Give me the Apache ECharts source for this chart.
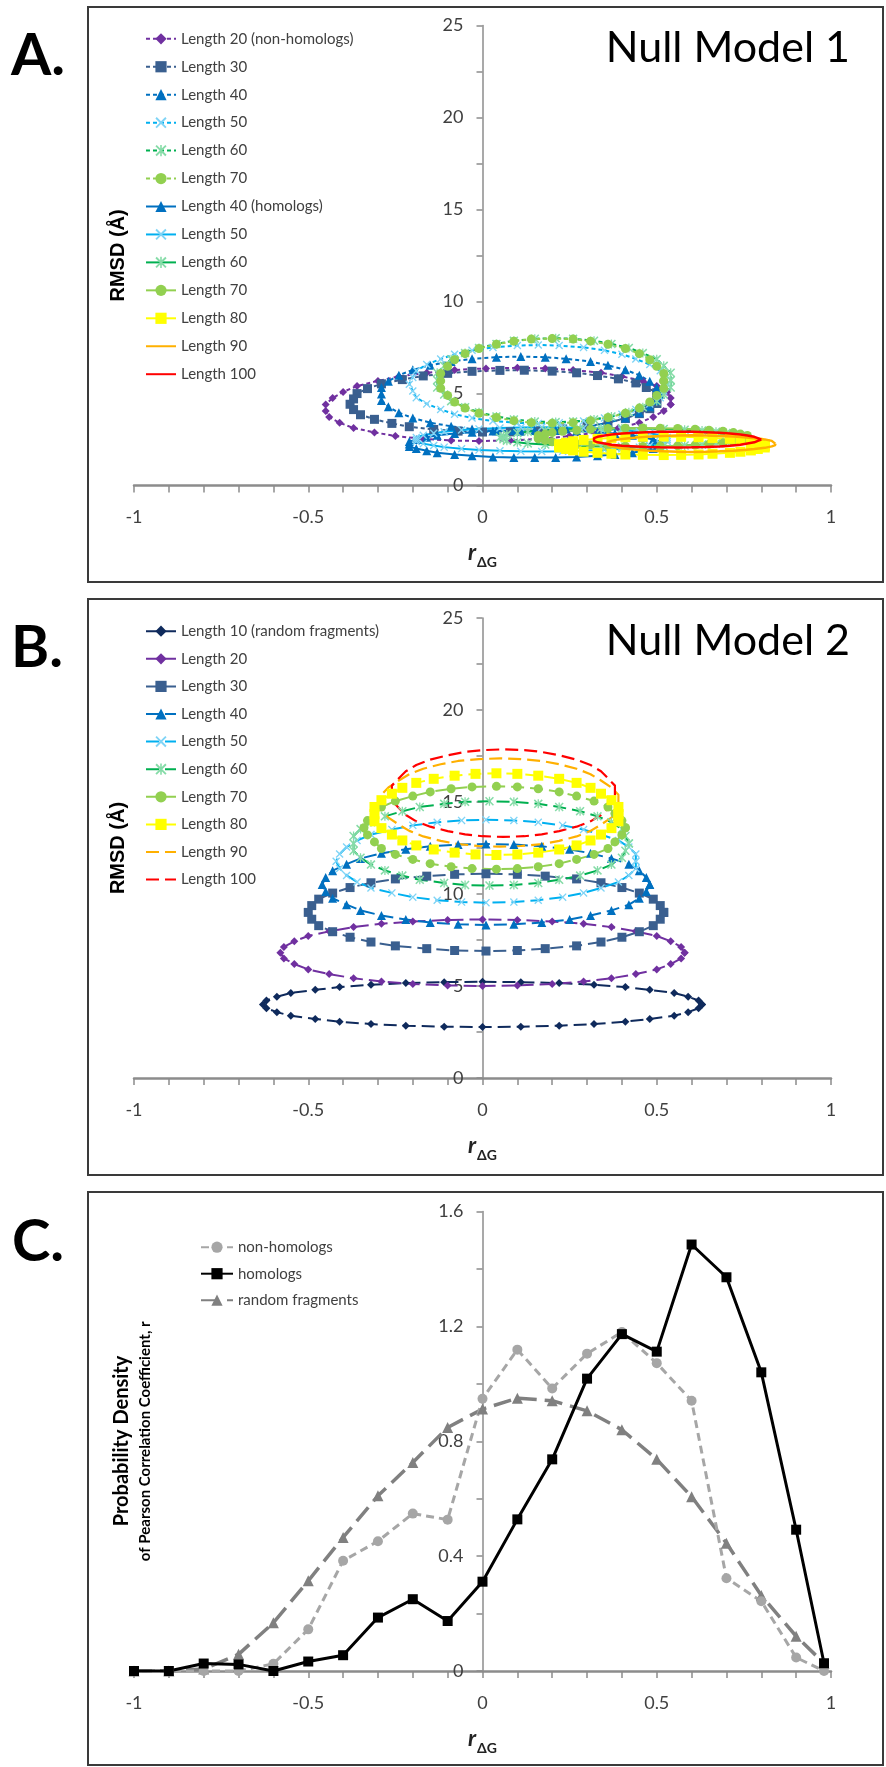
<!DOCTYPE html>
<html>
<head>
<meta charset="utf-8">
<script src="https://cdn.jsdelivr.net/npm/echarts@6.0.0/dist/echarts.min.js"></script>
<style>
body{margin:0;background:#fff;}
.panel{position:absolute;left:0;width:886px;}
#mainA{top:0;height:590px;}
#mainB{top:590px;height:592px;}
#mainC{top:1182px;height:585px;}
</style>
</head>
<body>
<div id="mainA" class="panel"></div>
<div id="mainB" class="panel"></div>
<div id="mainC" class="panel"></div>
<script>
// ---- Panel A: null model 1, ellipses (r, RMSD) ----
var a20x = [0.54,0.54,0.53,0.50,0.46,0.40,0.34,0.26,0.18,0.10,0.01,-0.08,-0.16,-0.24,-0.30,-0.36,-0.40,-0.43,-0.45,-0.45,-0.44,-0.41,-0.37,-0.31,-0.25,-0.17,-0.09,-0.01,0.08,0.17,0.25,0.33,0.39,0.45,0.49,0.52];
var a20y = [4.4,4.75,5.08,5.4,5.68,5.92,6.12,6.27,6.36,6.39,6.36,6.27,6.12,5.92,5.68,5.4,5.08,4.75,4.4,4.05,3.72,3.4,3.12,2.88,2.68,2.53,2.44,2.41,2.44,2.53,2.68,2.88,3.12,3.4,3.72,4.05];
var a30x = [0.50,0.50,0.50,0.47,0.44,0.39,0.33,0.27,0.20,0.12,0.05,-0.03,-0.10,-0.17,-0.23,-0.29,-0.33,-0.36,-0.37,-0.38,-0.37,-0.35,-0.31,-0.26,-0.21,-0.14,-0.07,0.00,0.08,0.16,0.23,0.30,0.36,0.41,0.45,0.48];
var a30y = [4.46,4.75,5.04,5.32,5.57,5.79,5.97,6.12,6.21,6.26,6.25,6.20,6.09,5.95,5.75,5.52,5.26,4.99,4.70,4.41,4.12,3.84,3.59,3.37,3.19,3.04,2.95,2.90,2.91,2.96,3.07,3.21,3.41,3.64,3.90,4.17];
var a40x = [0.51,0.50,0.48,0.45,0.41,0.36,0.31,0.24,0.18,0.11,0.04,-0.03,-0.09,-0.15,-0.20,-0.24,-0.27,-0.29,-0.29,-0.29,-0.27,-0.24,-0.20,-0.15,-0.09,-0.03,0.04,0.11,0.18,0.24,0.31,0.36,0.41,0.45,0.48,0.50];
var a40y = [4.97,5.32,5.66,5.99,6.28,6.53,6.73,6.88,6.97,7.0,6.97,6.88,6.73,6.53,6.28,5.99,5.66,5.32,4.97,4.62,4.28,3.95,3.66,3.41,3.21,3.06,2.97,2.94,2.97,3.06,3.21,3.41,3.66,3.95,4.28,4.62];
var a50x = [0.53,0.52,0.51,0.48,0.44,0.40,0.35,0.29,0.22,0.16,0.10,0.03,-0.03,-0.08,-0.12,-0.16,-0.19,-0.20,-0.21,-0.20,-0.19,-0.16,-0.12,-0.08,-0.03,0.03,0.10,0.16,0.22,0.29,0.35,0.40,0.44,0.48,0.51,0.52];
var a50y = [5.5,5.87,6.23,6.57,6.87,7.13,7.34,7.5,7.6,7.63,7.6,7.5,7.34,7.13,6.87,6.57,6.23,5.87,5.5,5.13,4.77,4.43,4.13,3.87,3.66,3.5,3.4,3.37,3.4,3.5,3.66,3.87,4.13,4.43,4.77,5.13];
var a60x = [0.54,0.54,0.52,0.50,0.46,0.42,0.37,0.32,0.26,0.21,0.15,0.09,0.04,-0.01,-0.05,-0.09,-0.11,-0.13,-0.13,-0.13,-0.11,-0.09,-0.05,-0.01,0.04,0.09,0.15,0.21,0.26,0.32,0.37,0.42,0.46,0.50,0.52,0.54];
var a60y = [5.72,6.12,6.50,6.86,7.19,7.47,7.69,7.86,7.97,8.0,7.97,7.86,7.69,7.47,7.19,6.86,6.50,6.12,5.72,5.32,4.94,4.58,4.25,3.97,3.75,3.58,3.47,3.44,3.47,3.58,3.75,3.97,4.25,4.58,4.94,5.32];
var a70x = [0.52,0.52,0.50,0.48,0.45,0.41,0.36,0.31,0.26,0.20,0.14,0.09,0.04,-0.01,-0.05,-0.08,-0.10,-0.12,-0.12,-0.12,-0.10,-0.08,-0.05,-0.01,0.04,0.09,0.14,0.20,0.26,0.31,0.36,0.41,0.45,0.48,0.50,0.52];
var a70y = [5.68,6.08,6.47,6.83,7.16,7.44,7.67,7.84,7.95,7.98,7.95,7.84,7.67,7.44,7.16,6.83,6.47,6.08,5.68,5.28,4.89,4.53,4.20,3.92,3.69,3.52,3.41,3.38,3.41,3.52,3.69,3.92,4.20,4.53,4.89,5.28];
var h40x = [0.51,0.51,0.49,0.46,0.43,0.38,0.33,0.27,0.21,0.15,0.09,0.03,-0.03,-0.08,-0.13,-0.16,-0.19,-0.21,-0.21,-0.21,-0.19,-0.16,-0.13,-0.08,-0.03,0.03,0.09,0.15,0.21,0.27,0.33,0.38,0.43,0.46,0.49,0.51];
var h40y = [2.25,2.38,2.50,2.62,2.73,2.82,2.89,2.95,2.98,2.99,2.98,2.95,2.89,2.82,2.73,2.62,2.50,2.38,2.25,2.12,2.0,1.88,1.77,1.68,1.61,1.55,1.52,1.51,1.52,1.55,1.61,1.68,1.77,1.88,2.0,2.12];
var h50x = [0.53,0.53,0.51,0.48,0.45,0.40,0.35,0.29,0.23,0.17,0.11,0.05,-0.01,-0.06,-0.11,-0.14,-0.17,-0.19,-0.19,-0.19,-0.17,-0.14,-0.11,-0.06,-0.01,0.05,0.11,0.17,0.23,0.29,0.35,0.40,0.45,0.48,0.51,0.53];
var h50y = [2.5,2.61,2.73,2.83,2.92,3.01,3.07,3.12,3.15,3.16,3.15,3.12,3.07,3.01,2.92,2.83,2.73,2.61,2.5,2.39,2.27,2.17,2.08,1.99,1.93,1.88,1.85,1.84,1.85,1.88,1.93,1.99,2.08,2.17,2.27,2.39];
var h60x = [0.75,0.75,0.73,0.70,0.67,0.63,0.58,0.52,0.46,0.40,0.34,0.28,0.23,0.18,0.13,0.10,0.07,0.06,0.05,0.06,0.07,0.10,0.13,0.18,0.23,0.28,0.34,0.40,0.46,0.52,0.58,0.63,0.67,0.70,0.73,0.75];
var h60y = [2.6,2.69,2.77,2.85,2.92,2.98,3.03,3.07,3.09,3.1,3.09,3.07,3.03,2.98,2.92,2.85,2.77,2.69,2.6,2.51,2.43,2.35,2.28,2.22,2.17,2.13,2.11,2.1,2.11,2.13,2.17,2.22,2.28,2.35,2.43,2.51];
var h70x = [0.76,0.76,0.74,0.72,0.69,0.65,0.61,0.56,0.51,0.46,0.41,0.36,0.31,0.27,0.23,0.20,0.18,0.16,0.16,0.16,0.18,0.20,0.23,0.27,0.31,0.36,0.41,0.46,0.51,0.56,0.61,0.65,0.69,0.72,0.74,0.76];
var h70y = [2.62,2.71,2.79,2.87,2.94,3.0,3.05,3.09,3.11,3.12,3.11,3.09,3.05,3.0,2.94,2.87,2.79,2.71,2.62,2.53,2.45,2.37,2.30,2.24,2.19,2.15,2.13,2.12,2.13,2.15,2.19,2.24,2.30,2.37,2.45,2.53];
var h80x = [0.81,0.81,0.79,0.77,0.74,0.71,0.66,0.62,0.57,0.52,0.46,0.41,0.37,0.33,0.29,0.26,0.24,0.22,0.22,0.22,0.24,0.26,0.29,0.33,0.37,0.41,0.46,0.52,0.57,0.62,0.66,0.71,0.74,0.77,0.79,0.81];
var h80y = [2.15,2.24,2.32,2.40,2.47,2.53,2.58,2.62,2.64,2.65,2.64,2.62,2.58,2.53,2.47,2.40,2.32,2.24,2.15,2.06,1.98,1.90,1.83,1.77,1.72,1.68,1.66,1.65,1.66,1.68,1.72,1.77,1.83,1.90,1.98,2.06];
var h90x = [0.84,0.84,0.83,0.81,0.78,0.75,0.72,0.68,0.64,0.60,0.56,0.52,0.48,0.45,0.42,0.39,0.37,0.36,0.36,0.36,0.37,0.39,0.42,0.45,0.48,0.52,0.56,0.60,0.64,0.68,0.72,0.75,0.78,0.81,0.83,0.84];
var h90y = [2.27,2.35,2.42,2.50,2.56,2.61,2.66,2.69,2.71,2.72,2.71,2.69,2.66,2.61,2.56,2.50,2.42,2.35,2.27,2.19,2.12,2.04,1.98,1.93,1.88,1.85,1.83,1.82,1.83,1.85,1.88,1.93,1.98,2.04,2.12,2.19];
var h100x = [0.80,0.79,0.78,0.76,0.74,0.71,0.68,0.64,0.60,0.56,0.51,0.47,0.44,0.40,0.37,0.35,0.33,0.32,0.32,0.32,0.33,0.35,0.37,0.40,0.44,0.47,0.51,0.56,0.60,0.64,0.68,0.71,0.74,0.76,0.78,0.79];
var h100y = [2.49,2.57,2.64,2.71,2.77,2.82,2.86,2.89,2.91,2.92,2.91,2.89,2.86,2.82,2.77,2.71,2.64,2.57,2.49,2.42,2.34,2.28,2.21,2.16,2.12,2.09,2.07,2.06,2.07,2.09,2.12,2.16,2.21,2.28,2.34,2.42];

// ---- Panel B: null model 2 ----
var b10x = [0.63,0.62,0.59,0.55,0.48,0.41,0.32,0.22,0.11,0,-0.11,-0.22,-0.32,-0.41,-0.48,-0.55,-0.59,-0.62,-0.63,-0.62,-0.59,-0.55,-0.48,-0.41,-0.32,-0.22,-0.11,0,0.11,0.22,0.32,0.41,0.48,0.55,0.59,0.62];
var b10y = [4.0,4.21,4.42,4.62,4.79,4.94,5.07,5.16,5.21,5.23,5.21,5.16,5.07,4.94,4.79,4.62,4.42,4.21,4.0,3.79,3.58,3.38,3.21,3.06,2.93,2.84,2.79,2.77,2.79,2.84,2.93,3.06,3.21,3.38,3.58,3.79];
var b20x = [0.58,0.57,0.54,0.50,0.44,0.37,0.29,0.20,0.10,0,-0.10,-0.20,-0.29,-0.37,-0.44,-0.50,-0.54,-0.57,-0.58,-0.57,-0.54,-0.50,-0.44,-0.37,-0.29,-0.20,-0.10,0,0.10,0.20,0.29,0.37,0.44,0.50,0.54,0.57];
var b20y = [6.81,7.12,7.43,7.72,7.97,8.20,8.38,8.51,8.59,8.62,8.59,8.51,8.38,8.20,7.97,7.72,7.43,7.12,6.81,6.50,6.19,5.90,5.65,5.42,5.24,5.11,5.03,5.00,5.03,5.11,5.24,5.42,5.65,5.90,6.19,6.50];
var b30x = [0.52,0.51,0.49,0.45,0.40,0.34,0.27,0.18,0.10,0.01,-0.08,-0.16,-0.25,-0.32,-0.38,-0.43,-0.47,-0.49,-0.50,-0.49,-0.47,-0.43,-0.38,-0.32,-0.25,-0.16,-0.08,0.01,0.10,0.18,0.27,0.34,0.40,0.45,0.49,0.51];
var b30y = [9.0,9.37,9.72,10.05,10.35,10.61,10.82,10.97,11.07,11.1,11.07,10.97,10.82,10.61,10.35,10.05,9.72,9.37,9.0,8.63,8.28,7.95,7.65,7.39,7.18,7.03,6.93,6.9,6.93,7.03,7.18,7.39,7.65,7.95,8.28,8.63];
var b40x = [0.48,0.47,0.45,0.42,0.37,0.31,0.25,0.17,0.09,0.01,-0.07,-0.15,-0.22,-0.29,-0.35,-0.39,-0.43,-0.45,-0.46,-0.45,-0.43,-0.39,-0.35,-0.29,-0.22,-0.15,-0.07,0.01,0.09,0.17,0.25,0.31,0.37,0.42,0.45,0.47];
var b40y = [10.52,10.90,11.27,11.62,11.93,12.21,12.43,12.59,12.69,12.72,12.69,12.59,12.43,12.21,11.93,11.62,11.27,10.90,10.52,10.14,9.77,9.42,9.11,8.83,8.61,8.45,8.35,8.32,8.35,8.45,8.61,8.83,9.11,9.42,9.77,10.14];
var b50x = [0.44,0.44,0.42,0.39,0.34,0.29,0.23,0.16,0.09,0.01,-0.06,-0.13,-0.20,-0.26,-0.32,-0.36,-0.39,-0.41,-0.42,-0.41,-0.39,-0.36,-0.32,-0.26,-0.20,-0.13,-0.06,0.01,0.09,0.16,0.23,0.29,0.34,0.39,0.42,0.44];
var b50y = [11.78,12.17,12.55,12.91,13.23,13.50,13.73,13.90,14.00,14.03,14.00,13.90,13.73,13.50,13.23,12.91,12.55,12.17,11.78,11.39,11.01,10.65,10.33,10.06,9.83,9.66,9.56,9.53,9.56,9.66,9.83,10.06,10.33,10.65,11.01,11.39];
var b60x = [0.42,0.41,0.40,0.37,0.33,0.28,0.22,0.16,0.09,0.02,-0.05,-0.11,-0.18,-0.23,-0.28,-0.32,-0.35,-0.37,-0.37,-0.37,-0.35,-0.32,-0.28,-0.23,-0.18,-0.11,-0.05,0.02,0.09,0.16,0.22,0.28,0.33,0.37,0.40,0.41];
var b60y = [12.75,13.15,13.53,13.90,14.22,14.50,14.73,14.90,15.01,15.04,15.01,14.90,14.73,14.50,14.22,13.90,13.53,13.15,12.75,12.35,11.97,11.60,11.28,11.00,10.77,10.60,10.49,10.46,10.49,10.60,10.77,11.00,11.28,11.60,11.97,12.35];
var b70x = [0.41,0.40,0.38,0.36,0.32,0.27,0.22,0.16,0.10,0.04,-0.03,-0.09,-0.15,-0.20,-0.25,-0.29,-0.31,-0.33,-0.34,-0.33,-0.31,-0.29,-0.25,-0.20,-0.15,-0.09,-0.03,0.04,0.10,0.16,0.22,0.27,0.32,0.36,0.38,0.40];
var b70y = [13.6,13.99,14.37,14.73,15.05,15.32,15.55,15.72,15.82,15.85,15.82,15.72,15.55,15.32,15.05,14.73,14.37,13.99,13.6,13.21,12.83,12.47,12.15,11.88,11.65,11.48,11.38,11.35,11.38,11.48,11.65,11.88,12.15,12.47,12.83,13.21];
var b80x = [0.39,0.39,0.37,0.34,0.31,0.27,0.22,0.16,0.10,0.04,-0.02,-0.08,-0.14,-0.19,-0.23,-0.26,-0.29,-0.31,-0.31,-0.31,-0.29,-0.26,-0.23,-0.19,-0.14,-0.08,-0.02,0.04,0.10,0.16,0.22,0.27,0.31,0.34,0.37,0.39];
var b80y = [14.34,14.73,15.10,15.45,15.77,16.04,16.26,16.43,16.53,16.56,16.53,16.43,16.26,16.04,15.77,15.45,15.10,14.73,14.34,13.95,13.58,13.23,12.91,12.64,12.42,12.25,12.15,12.12,12.15,12.25,12.42,12.64,12.91,13.23,13.58,13.95];
var b90x = [0.39,0.39,0.37,0.34,0.31,0.27,0.22,0.17,0.11,0.05,-0.01,-0.07,-0.12,-0.17,-0.21,-0.24,-0.27,-0.29,-0.29,-0.29,-0.27,-0.24,-0.21,-0.17,-0.12,-0.07,-0.01,0.05,0.11,0.17,0.22,0.27,0.31,0.34,0.37,0.39];
var b90y = [14.97,15.39,15.79,16.17,16.51,16.81,17.05,17.23,17.33,17.37,17.33,17.23,17.05,16.81,16.51,16.17,15.79,15.39,14.97,14.55,14.15,13.77,13.43,13.13,12.89,12.71,12.61,12.57,12.61,12.71,12.89,13.13,13.43,13.77,14.15,14.55];
var b100x = [0.38,0.38,0.36,0.34,0.31,0.27,0.22,0.17,0.12,0.06,0.00,-0.05,-0.10,-0.15,-0.19,-0.22,-0.24,-0.26,-0.26,-0.26,-0.24,-0.22,-0.19,-0.15,-0.10,-0.05,0.00,0.06,0.12,0.17,0.22,0.27,0.31,0.34,0.36,0.38];
var b100y = [15.48,15.89,16.29,16.67,17.01,17.30,17.54,17.72,17.82,17.86,17.82,17.72,17.54,17.30,17.01,16.67,16.29,15.89,15.48,15.07,14.67,14.29,13.95,13.66,13.42,13.24,13.14,13.10,13.14,13.24,13.42,13.66,13.95,14.29,14.67,15.07];

// ---- Panel C: probability density ----
var rC = [-1,-0.9,-0.8,-0.7,-0.6,-0.5,-0.4,-0.3,-0.2,-0.1,0,0.1,0.2,0.3,0.4,0.5,0.6,0.7,0.8,0.9,0.98];
var nonHom = [0,0,0,0,0.025,0.145,0.384,0.452,0.548,0.527,0.948,1.119,0.984,1.105,1.18,1.072,0.941,0.323,0.243,0.047,0];
var hom = [0,0,0.026,0.023,0,0.033,0.055,0.186,0.25,0.174,0.311,0.528,0.737,1.018,1.173,1.112,1.485,1.371,1.04,0.492,0.027];
var randFrag = [0,0,0.007,0.058,0.168,0.314,0.465,0.61,0.726,0.848,0.912,0.95,0.941,0.906,0.84,0.737,0.607,0.445,0.263,0.121,0.027];

var FONT = 'Lato';
var AX = '#8c8c8c';
var xMark = 'path://M0,1.2L1.2,0L5,3.8L8.8,0L10,1.2L6.2,5L10,8.8L8.8,10L5,6.2L1.2,10L0,8.8L3.8,5Z';
var starMark = xMark + 'M4.3,0L5.7,0L5.7,10L4.3,10Z';

function ell(xs, ys){
	var d = [];
	for(var i=0;i<xs.length;i++){
		d.push([xs[i], ys[i]]);
	}
	d.push([xs[0], ys[0]]);	// close the loop
	return d;
}
function zip(xs, ys){
	var d = [];
	for(var i=0;i<xs.length;i++){ d.push([xs[i], ys[i]]); }
	return d;
}
function ser(name, data, color, symbol, size, dash, width, markColor, z){
	return {
		type: 'line', name: name, data: data, z: z || 2,
		symbol: symbol, symbolSize: size, showSymbol: symbol !== 'none',
		lineStyle: {color: color, width: width, type: dash},
		itemStyle: {color: markColor || color},
		emphasis: {disabled: true}
	};
}
// legend entries; series without markers get an invisible legend symbol
function legData(list){
	return list.map(function(s){
		return s.symbol === 'none' ? {name: s.name, itemStyle: {opacity: 0}} : {name: s.name};
	});
}
function xAx(gap){
	return {
		type: 'value', min: -1, max: 1, interval: 0.5,
		axisLine: {onZero: true, lineStyle: {color: AX, width: 2.5}},
		axisTick: {length: 7, lineStyle: {color: AX, width: 1.5}},
		minorTick: {show: true, splitNumber: 5, length: 7, lineStyle: {color: AX, width: 1.5}},
		splitLine: {show: false},
		axisLabel: {margin: 23, fontFamily: FONT, fontSize: 18, color: '#404040'},
		name: '{r|r}{s|ΔG}', nameLocation: 'middle', nameGap: gap,
		nameTextStyle: {rich: {
			r: {fontFamily: FONT, fontStyle: 'italic', fontWeight: 'bold', fontSize: 23, color: '#222', verticalAlign: 'bottom', padding: [0, 1, 5, 0]},
			s: {fontFamily: FONT, fontWeight: 'bold', fontSize: 14, color: '#222', verticalAlign: 'bottom'}
		}}
	};
}
// y axis drawn at r = 0: shifted right from the grid's left edge by half the grid width
function yAx(max, interval){
	return {
		type: 'value', position: 'left', min: 0, max: max, interval: interval, offset: -348.5,
		axisLine: {show: true, onZero: false, lineStyle: {color: AX, width: 1.5}},
		axisTick: {show: true, length: 6, lineStyle: {color: AX, width: 1.5}},
		minorTick: {show: true, splitNumber: 2, length: 6, lineStyle: {color: AX, width: 1.5}},
		splitLine: {show: false},
		axisLabel: {margin: 19, fontFamily: FONT, fontSize: 18, color: '#404040'}
	};
}
// invisible y axis that only carries a rotated title line
function yTitleAx(max, name, gap, nameStyle){
	return {
		type: 'value', position: 'left', min: 0, max: max, offset: -348.5,
		axisLine: {show: false}, axisTick: {show: false}, axisLabel: {show: false},
		splitLine: {show: false}, nameMoveOverlap: false,
		name: name, nameLocation: 'middle', nameRotate: 90, nameGap: gap,
		nameTextStyle: nameStyle
	};
}
function frame(y, h){
	return {type: 'rect', shape: {x: 88, y: y, width: 795, height: h}, style: {fill: 'none', stroke: '#3a3a3a', lineWidth: 2}, z: -1};
}
function txt(x, y, s, font, align){
	return {type: 'text', x: x, y: y, style: {text: s, font: font, fill: '#000', align: align, verticalAlign: 'middle', textAlign: align, textVerticalAlign: 'middle'}};
}
var rmsdStyle = {fontFamily: 'Liberation Sans', fontWeight: 'bold', fontSize: 20, color: '#000'};
var legText = {fontFamily: FONT, fontSize: 15, color: '#404040'};
var gridBase = {left: 134, width: 697, outerBoundsMode: 'none', containLabel: false};

// ---- A ----
var myChartA = echarts.init(document.getElementById('mainA'));
var dashA = [4, 3];
var seriesA = [
	ser('Length 20 (non-homologs)', ell(a20x, a20y), '#7030A0', 'diamond', 8, dashA, 2),
	ser('Length 30', ell(a30x, a30y), '#3A5F8F', 'rect', 9, dashA, 2),
	ser('Length 40', ell(a40x, a40y), '#0070C0', 'triangle', 9, dashA, 2),
	ser('Length 50', ell(a50x, a50y), '#00B0F0', xMark, 8, dashA, 2, '#7FD4F6'),
	ser('Length 60', ell(a60x, a60y), '#00B050', starMark, 9, dashA, 2, '#86DCA8'),
	ser('Length 70', ell(a70x, a70y), '#92D050', 'circle', 9, dashA, 2),
	ser('Length 40 (homologs)', ell(h40x, h40y), '#0070C0', 'triangle', 9, 'solid', 2),
	ser('Length 50 ', ell(h50x, h50y), '#00B0F0', xMark, 8, 'solid', 2, '#7FD4F6'),
	ser('Length 60 ', ell(h60x, h60y), '#00B050', starMark, 9, 'solid', 2, '#86DCA8'),
	ser('Length 70 ', ell(h70x, h70y), '#92D050', 'circle', 9, 'solid', 2),
	ser('Length 80', ell(h80x, h80y), '#FFFF00', 'rect', 10, 'solid', 2),
	ser('Length 90', ell(h90x, h90y), '#FFB000', 'none', 0, 'solid', 2.5, null, 3),
	ser('Length 100', ell(h100x, h100y), '#FF0000', 'none', 0, 'solid', 2.5, null, 4)
];
var optionA = {
	animation: false,
	grid: Object.assign({top: 25.4, height: 460}, gridBase),
	legend: {
		orient: 'vertical', left: 140, top: 26.3, itemWidth: 30, itemHeight: 14, itemGap: 12.95,
		textStyle: legText, selectedMode: false,
		data: legData(seriesA)
	},
	xAxis: xAx(56),
	yAxis: [yAx(25, 5), yTitleAx(25, 'RMSD (Å)', 354, rmsdStyle)],
	graphic: [frame(7, 575), txt(11, 56, 'A.', 'bold 58px Lato', 'left'), txt(850, 48.5, 'Null Model 1', '43px Lato', 'right')],
	series: seriesA
};
myChartA.setOption(optionA);

// ---- B ----
var myChartB = echarts.init(document.getElementById('mainB'));
var dashB = [13, 6];
var seriesB = [
	ser('Length 10 (random fragments)', ell(b10x, b10y), '#0F2A5C', 'diamond', 8, dashB, 2),
	ser('Length 20', ell(b20x, b20y), '#7030A0', 'diamond', 8, dashB, 2),
	ser('Length 30', ell(b30x, b30y), '#3A5F8F', 'rect', 9, dashB, 2),
	ser('Length 40', ell(b40x, b40y), '#0070C0', 'triangle', 9, dashB, 2),
	ser('Length 50', ell(b50x, b50y), '#00B0F0', xMark, 8, dashB, 2, '#7FD4F6'),
	ser('Length 60', ell(b60x, b60y), '#00B050', starMark, 9, dashB, 2, '#86DCA8'),
	ser('Length 70', ell(b70x, b70y), '#92D050', 'circle', 9, dashB, 2),
	ser('Length 80', ell(b80x, b80y), '#FFFF00', 'rect', 10, dashB, 2),
	ser('Length 90', ell(b90x, b90y), '#FFB000', 'none', 0, dashB, 2.2),
	ser('Length 100', ell(b100x, b100y), '#FF0000', 'none', 0, dashB, 2.2)
];
var optionB = {
	animation: false,
	grid: Object.assign({top: 28, height: 460}, gridBase),
	legend: {
		orient: 'vertical', left: 140, top: 28.7, itemWidth: 30, itemHeight: 14, itemGap: 12.6,
		textStyle: legText, selectedMode: false,
		data: legData(seriesB)
	},
	xAxis: xAx(56),
	yAxis: [yAx(25, 5), yTitleAx(25, 'RMSD (Å)', 354, rmsdStyle)],
	graphic: [frame(9, 576), txt(11, 58.6, 'B.', 'bold 58px Lato', 'left'), txt(850, 51.5, 'Null Model 2', '43px Lato', 'right')],
	series: seriesB
};
myChartB.setOption(optionB);

// ---- C ----
var myChartC = echarts.init(document.getElementById('mainC'));
var seriesC = [
	ser('random fragments', zip(rC, randFrag), '#808080', 'triangle', 11, [18, 8], 3.5),
	ser('non-homologs', zip(rC, nonHom), '#A6A6A6', 'circle', 10, [8, 5], 3),
	ser('homologs', zip(rC, hom), '#000000', 'rect', 10, 'solid', 3)
];
// main title line of panel C, drawn as rotated plain text
var pdTitle = {
	type: 'text', x: 122, y: 259, rotation: Math.PI / 2,
	style: {text: 'Probability Density', font: 'bold 20px Lato', fill: '#000',
		align: 'center', verticalAlign: 'middle', textAlign: 'center', textVerticalAlign: 'middle'}
};
var optionC = {
	animation: false,
	grid: Object.assign({top: 29.5, height: 459.5}, gridBase),
	legend: {
		orient: 'vertical', left: 195, top: 52.7, itemWidth: 32, itemHeight: 14, itemGap: 11.5,
		textStyle: legText, selectedMode: false,
		data: ['non-homologs', 'homologs', 'random fragments']
	},
	xAxis: xAx(56),
	yAxis: [
		yAx(1.6, 0.4),
		yTitleAx(1.6, 'of Pearson Correlation Coefficient, r', 330, {fontFamily: FONT, fontWeight: 'bold', fontSize: 15, color: '#000'})
	],
	graphic: [frame(10, 573), txt(12, 60, 'C.', 'bold 58px Lato', 'left'), pdTitle],
	series: seriesC
};
myChartC.setOption(optionC);
</script>
</body>
</html>
